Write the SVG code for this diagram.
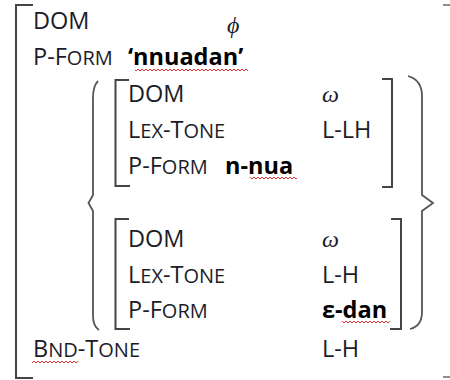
<svg xmlns="http://www.w3.org/2000/svg" width="450" height="380" viewBox="0 0 450 380">
<defs>
<style>
text{font-family:"Open Sans","Liberation Sans",sans-serif;font-size:23.5px;fill:#1c1c28}
.sc{font-size:20px}
.b{font-weight:bold;fill:#000}
.gk{font-family:"Liberation Serif","DejaVu Serif",serif;font-style:italic;font-size:24px}
.br{fill:none;stroke:#444;stroke-width:2}
.pa{fill:none;stroke:#555;stroke-width:1.8}
.sq{fill:none;stroke:#e03030;stroke-width:1}
</style>
<pattern id="wave" width="4" height="4" patternUnits="userSpaceOnUse"><path d="M0,3 L2,1 L4,3" class="sq"/></pattern>
</defs>
<g id="brackets">
<path class="br" d="M33,5 H16 V378 H33"/>
<path class="br" d="M443,5 H450 M443,377 H450" stroke-opacity="0.6"/>
<path class="br" d="M129,80 H115.5 V186 H130 M382,79 H392 V187 H382"/>
<path class="br" d="M129,219 H115.5 V329 H130 M391,219 H401 V329 H390"/>
</g>
<g id="braces">
<path class="pa" d="M98,81 Q93,86 93,98 V195 L88.5,203 L93,211 V316 Q93,326 99,330"/>
<path class="pa" d="M408,76 Q422,80 422,96 V195 L433,203 L422,211 V312 Q422,326 410,329"/>
</g>
<g id="squiggles">
<rect x="135" y="68" width="113" height="4" fill="url(#wave)"/>
<rect x="250" y="176" width="47" height="4" fill="url(#wave)"/>
<rect x="342" y="320" width="48" height="4" fill="url(#wave)"/>
<rect x="32" y="361" width="46" height="4" fill="url(#wave)"/>
</g>
<g id="row-dom">
<text x="33" y="29">DOM</text>
<text class="gk" x="227" y="33">ϕ</text>
</g>
<g id="row-pform">
<text x="33" y="65">P-F<tspan class="sc">ORM</tspan></text>
<text class="b" x="128" y="65">‘nnuadan’</text>
</g>
<g id="avm-1">
<text x="128" y="102">DOM</text>
<text class="gk" x="322" y="102">ω</text>
<text x="128" y="138">L<tspan class="sc">EX</tspan>-T<tspan class="sc">ONE</tspan></text>
<text x="322" y="138">L-LH</text>
<text x="128" y="174">P-F<tspan class="sc">ORM</tspan></text>
<text class="b" x="225" y="174">n-nua</text>
</g>
<g id="avm-2">
<text x="128" y="247">DOM</text>
<text class="gk" x="322" y="247">ω</text>
<text x="128" y="283">L<tspan class="sc">EX</tspan>-T<tspan class="sc">ONE</tspan></text>
<text x="322" y="283">L-H</text>
<text x="128" y="318">P-F<tspan class="sc">ORM</tspan></text>
<text class="b" x="322" y="318">ε-dan</text>
</g>
<g id="row-bnd">
<text x="33" y="357">B<tspan class="sc">ND</tspan>-T<tspan class="sc">ONE</tspan></text>
<text x="322" y="357">L-H</text>
</g>
</svg>
